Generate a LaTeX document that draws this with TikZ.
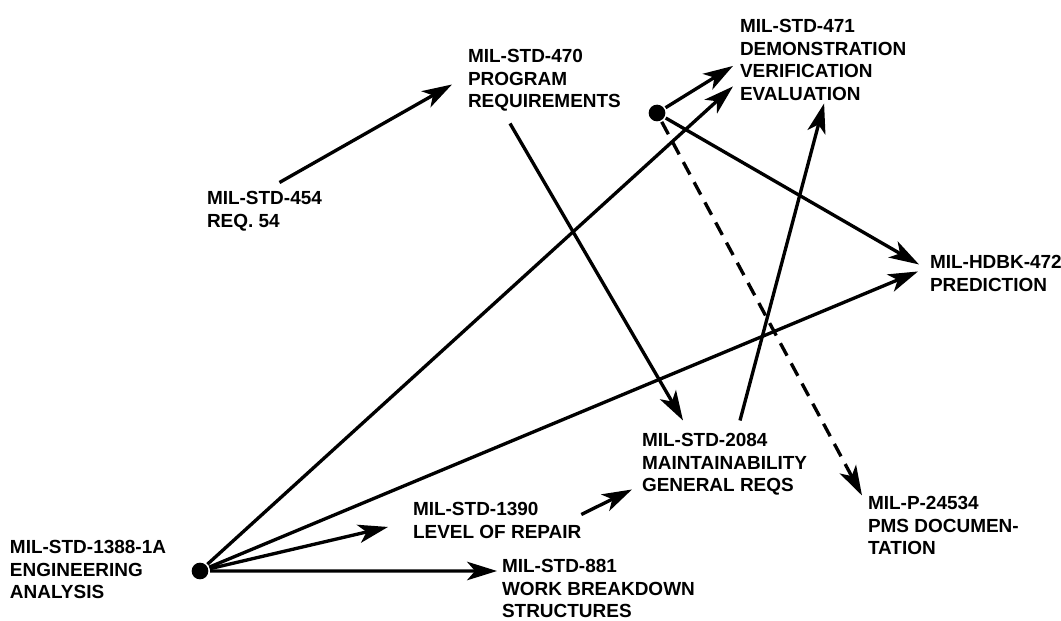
\documentclass[tikz,border=0pt]{standalone}
\usepackage{fontspec}
\setmainfont{Liberation Sans}
\usetikzlibrary{calc, arrows.meta}
\tikzset{every node/.append style={font=\bfseries\fontsize{10.8}{12.8}\selectfont}}

\begin{document}
\begin{tikzpicture}[x=0.02cm, y=-0.02cm, line width=1.9pt,
    lbl/.style={anchor=north west, align=left, inner sep=0pt, outer sep=0pt},
    dot/.style={circle, fill, inner sep=0pt, minimum size=9.5pt},
    arr/.style={-{Stealth[length=17pt, width=10.5pt, inset=4.5pt]}}]
    \useasboundingbox (0,0) rectangle (1061,621);
    % standards
    \node[lbl] (m454) at (207,191.5) {MIL-STD-454\\REQ. 54};
    \node[lbl] (m470) at (468,49.5) {MIL-STD-470\\PROGRAM\\REQUIREMENTS};
    \node[lbl] (m471) at (740,19.5) {MIL-STD-471\\DEMONSTRATION\\VERIFICATION\\EVALUATION};
    \node[lbl] (m472) at (930,255.5) {MIL-HDBK-472\\PREDICTION};
    \node[lbl] (m2084) at (642,433.5) {MIL-STD-2084\\MAINTAINABILITY\\GENERAL REQS};
    \node[lbl] (m1390) at (413,502.5) {MIL-STD-1390\\LEVEL OF REPAIR};
    \node[lbl] (m881) at (502,559.5) {MIL-STD-881\\WORK BREAKDOWN\\STRUCTURES};
    \node[lbl] (m24534) at (868,496.5) {MIL-P-24534\\PMS DOCUMEN-\\TATION};
    \node[lbl] (m1388) at (10,540.5) {MIL-STD-1388-1A\\ENGINEERING\\ANALYSIS};
    % branch points
    \node[dot] (d1388) at (200,571) {};
    \node[dot] (d471) at (657,113) {};
    % links
    \draw[arr] ($(m454.north)+(15,-9)$) -- ($(m470.west)+(-16,4)$);
    \draw[arr] ($(m470.south west)+(42,12)$) -- ($(m2084.north west)+(41,-13)$);
    \draw[arr] ($(m2084.north west)+(98,-13)$) -- ($(m471.south)+(1,3)$);
    \draw[arr] ($(m1390.east)+(0,-6)$) -- ($(m2084.south west)+(-10,-6)$);
    \draw[arr] (d471) -- ($(m471.west)+(-7,6)$);
    \draw[arr] (d471) -- ($(m472.west)+(-11,-9)$);
    \draw[arr, dash pattern=on 8pt off 5pt] (d471) -- ($(m24534.north west)+(-6,-1)$);
    % from engineering analysis
    \draw[arr] (d1388) -- ($(m471.south west)+(-7,-14)$);
    \draw[arr] (d1388) -- ($(m472.west)+(-12,-2)$);
    \draw[arr] (d1388) -- ($(m1390.west)+(-25,6.5)$);
    \draw[arr] (d1388) -- ($(m881.north west)+(-5,11.5)$);
\end{tikzpicture}
\end{document}
